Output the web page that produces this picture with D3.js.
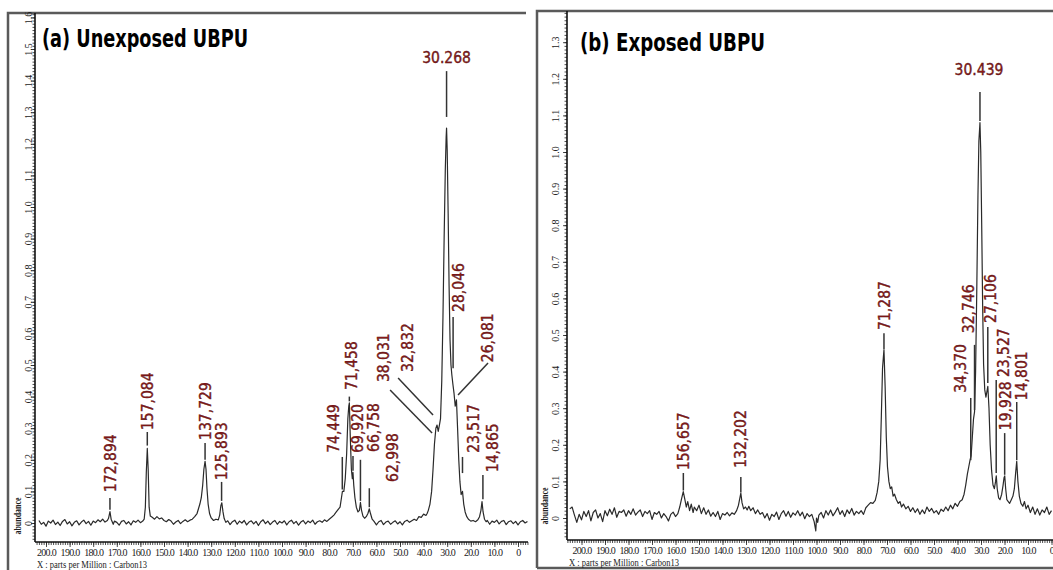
<!DOCTYPE html>
<html>
<head>
<meta charset="utf-8">
<script src="https://cdn.jsdelivr.net/npm/d3@7"></script>
<style>
  body { margin: 0; background: #fff; }
  svg { display: block; }
  .frame { fill: none; stroke: #5a5a5a; stroke-width: 2.5; }
  .axis-line { stroke: #111; stroke-width: 1.6; }
  .tick-line { stroke: #222; stroke-width: 0.8; }
  .tick-text { font-family: "Liberation Serif", "DejaVu Serif", serif; font-size: 10px; fill: #222; }
  .spec { fill: none; stroke: #2a2a2a; stroke-width: 1.2; stroke-linejoin: round; }
  .peak-text { font-family: "DejaVu Sans Condensed", "DejaVu Sans", sans-serif; font-size: 15.5px; fill: #8b1a1a; stroke: #4a0c0c; stroke-width: 0.35; }
  .marker { stroke: #333; stroke-width: 1.5; }
  .title { font-family: "Liberation Sans Narrow", "DejaVu Sans Condensed", "Liberation Sans", sans-serif; font-weight: bold; font-size: 25px; fill: #000; }
</style>
</head>
<body>
<svg id="chart" width="1053" height="570"></svg>
<script>
// x axis (ppm)
var ppmTicks = [200, 190, 180, 170, 160, 150, 140, 130, 120, 110, 100, 90, 80, 70, 60, 50, 40, 30, 20, 10, 0];
var ppmTickLabels = ["200.0", "190.0", "180.0", "170.0", "160.0", "150.0", "140.0", "130.0", "120.0", "110.0",
  "100.0", "90.0", "80.0", "70.0", "60.0", "50.0", "40.0", "30.0", "20.0", "10.0", "0"];

// y axes (abundance)
var yTicksA = [0, 0.1, 0.2, 0.3, 0.4, 0.5, 0.6, 0.7, 0.8, 0.9, 1.0, 1.1, 1.2, 1.3, 1.4, 1.5, 1.6];
var yTickLabelsA = ["0", "0.1", "0.2", "0.3", "0.4", "0.5", "0.6", "0.7", "0.8", "0.9", "1.0", "1.1", "1.2", "1.3", "1.4", "1.5", "1.6"];
var yTicksB = [0, 0.1, 0.2, 0.3, 0.4, 0.5, 0.6, 0.7, 0.8, 0.9, 1.0, 1.1, 1.2, 1.3];
var yTickLabelsB = ["0", "0.1", "0.2", "0.3", "0.4", "0.5", "0.6", "0.7", "0.8", "0.9", "1.0", "1.1", "1.2", "1.3"];

// (a) unexposed spectrum, [ppm, abundance]
var specA = [
  [205, 0.004], [204, -0.006], [203, 0.008], [202, -0.004], [201, 0.002], [200, -0.01], [199, 0.006], [198, 0.0],
  [197, 0.009], [196, -0.005], [195, 0.003], [194, -0.008], [193, 0.005], [192, 0.011], [191, -0.003], [190, 0.004],
  [189, -0.009], [188, 0.002], [187, 0.007], [186, -0.006], [185, 0.003], [184, 0.009], [183, -0.002], [182, 0.005],
  [181, -0.007], [180, 0.006], [179, 0.001], [178, 0.01], [177, 0.004], [176, 0.012], [175, 0.003], [174, 0.008],
  [173.5, 0.015], [172.9, 0.036], [172.4, 0.012], [171.5, -0.004], [171, 0.006], [170, 0.002], [169, -0.007],
  [168, 0.005], [167, 0.008], [166, -0.003], [165, 0.004], [164, -0.006], [163, 0.007], [162, 0.002], [161, 0.009],
  [160, 0.001], [159, 0.006], [158.4, 0.012], [157.9, 0.05], [157.5, 0.16], [157.08, 0.236], [156.7, 0.17],
  [156.3, 0.05], [155.8, 0.022], [155, 0.018], [154, 0.012], [153, 0.02], [152, 0.013], [151, 0.016], [150, 0.008],
  [149, 0.004], [148, 0.011], [147, 0.006], [146, -0.004], [145, 0.003], [144, 0.008], [143, -0.002], [142, 0.005],
  [141, 0.01], [140, 0.004], [139, 0.009], [138, 0.012], [137, 0.02], [136, 0.03], [135.4, 0.045], [134.8, 0.06],
  [134.2, 0.08], [133.6, 0.12], [133.1, 0.17], [132.6, 0.195], [132.2, 0.17], [131.8, 0.11], [131.3, 0.06],
  [130.7, 0.03], [130, 0.016], [129, 0.008], [128, 0.012], [127, 0.01], [126.4, 0.025], [125.9, 0.055],
  [125.5, 0.064], [125, 0.035], [124.5, 0.014], [123.8, 0.002], [123, 0.007], [122, -0.005], [121, 0.004],
  [120, 0.009], [119, -0.004], [118, 0.006], [117, 0.0], [116, 0.008], [115, -0.006], [114, 0.003], [113, 0.007],
  [112, -0.003], [111, 0.005], [110, -0.008], [109, 0.004], [108, 0.01], [107, -0.002], [106, 0.006], [105, -0.005],
  [104, 0.003], [103, 0.008], [102, -0.004], [101, 0.005], [100, 0.0], [99, 0.007], [98, -0.006], [97, 0.004],
  [96, 0.009], [95, -0.002], [94, 0.005], [93, -0.007], [92, 0.003], [91, 0.008], [90, -0.003], [89, 0.006],
  [88, 0.001], [87, 0.009], [86, -0.004], [85, 0.004], [84, 0.007], [83, 0.002], [82, 0.01], [81, 0.005],
  [80, 0.012], [79, 0.018], [78, 0.025], [77, 0.035], [76, 0.045], [75.4, 0.05], [74.8, 0.08], [74.4, 0.1],
  [73.8, 0.1], [73.2, 0.14], [72.6, 0.22], [72.1, 0.33], [71.7, 0.37], [71.46, 0.38], [71.1, 0.28], [70.6, 0.17],
  [70.2, 0.14], [69.92, 0.16], [69.6, 0.12], [69.1, 0.08], [68.5, 0.05], [67.8, 0.035], [67.2, 0.04], [66.76, 0.065],
  [66.3, 0.04], [65.7, 0.022], [65, 0.015], [64.3, 0.02], [63.6, 0.03], [63.0, 0.045], [62.5, 0.03], [61.8, 0.012],
  [61, 0.005], [60, -0.006], [59, 0.004], [58, 0.008], [57, -0.005], [56, 0.003], [55, 0.006], [54, -0.004],
  [53, 0.002], [52, 0.007], [51, -0.003], [50, 0.004], [49, -0.006], [48, 0.005], [47, 0.009], [46, 0.002],
  [45, 0.007], [44, 0.012], [43, 0.008], [42, 0.02], [41, 0.018], [40, 0.028], [39, 0.024], [38.5, 0.03],
  [38, 0.04], [37.3, 0.06], [36.6, 0.1], [36, 0.17], [35.4, 0.25], [34.8, 0.3], [34.3, 0.31], [33.8, 0.29],
  [33.3, 0.31], [32.83, 0.33], [32.3, 0.45], [31.8, 0.65], [31.3, 0.9], [30.8, 1.12], [30.45, 1.22], [30.27, 1.25],
  [30.0, 1.18], [29.6, 0.98], [29.2, 0.75], [28.8, 0.58], [28.4, 0.5], [28.05, 0.47], [27.6, 0.44], [27.1, 0.41],
  [26.6, 0.37], [26.08, 0.39], [25.6, 0.3], [25.1, 0.2], [24.6, 0.13], [24.1, 0.09], [23.52, 0.1], [23.0, 0.06],
  [22.4, 0.035], [21.7, 0.02], [21, 0.012], [20, 0.006], [19, 0.008], [18, 0.004], [17, 0.01], [16.3, 0.02],
  [15.7, 0.04], [15.25, 0.068], [14.8, 0.035], [14.2, 0.012], [13.5, 0.004], [13, 0.008], [12, -0.004], [11, 0.006],
  [10, 0.002], [9, 0.009], [8, -0.003], [7, 0.005], [6, 0.008], [5, -0.005], [4, 0.004], [3, 0.007], [2, -0.002],
  [1, 0.005], [0, -0.006], [-1, 0.004], [-2, 0.008], [-3, 0.0], [-4, 0.005]
];

// (b) exposed spectrum, [ppm, abundance]
var specB = [
  [206, 0.012], [205, 0.025], [204, 0.03], [203, 0.008], [202, -0.012], [201, 0.01], [200, -0.005], [199, 0.018],
  [198, 0.004], [197, 0.02], [196, -0.008], [195, 0.015], [194, 0.022], [193, 0.0], [192, 0.012], [191, -0.01],
  [190, 0.02], [189, 0.006], [188, 0.024], [187, 0.01], [186, 0.028], [185, 0.002], [184, 0.018], [183, 0.015],
  [182, 0.022], [181, 0.005], [180, 0.02], [179, 0.01], [178, 0.025], [177, 0.008], [176, 0.016], [175, 0.022],
  [174, 0.004], [173, 0.018], [172, 0.012], [171, 0.02], [170, -0.004], [169, 0.015], [168, 0.01], [167, 0.018],
  [166, 0.0], [165, 0.012], [164, 0.004], [163, -0.008], [162, 0.01], [161, 0.016], [160, 0.004], [159, 0.012],
  [158.2, 0.03], [157.5, 0.05], [156.7, 0.072], [156, 0.05], [155.4, 0.03], [154.8, 0.045], [154, 0.02],
  [153.3, 0.038], [152.5, 0.015], [152, 0.03], [151, 0.02], [150, 0.035], [149, 0.012], [148, 0.028], [147, 0.01],
  [146, 0.022], [145, 0.005], [144, 0.015], [143, 0.004], [142, 0.018], [141, -0.004], [140, 0.012], [139, 0.008],
  [138, 0.015], [137, 0.006], [136, 0.014], [135, 0.01], [134, 0.02], [133.2, 0.035], [132.6, 0.055], [132.2, 0.068],
  [131.7, 0.042], [131, 0.025], [130.2, 0.03], [129.5, 0.022], [128.8, 0.032], [128, 0.02], [127, 0.028],
  [126, 0.012], [125, 0.022], [124, 0.01], [123, 0.015], [122, 0.0], [121, 0.012], [120, -0.006], [119, 0.01],
  [118, 0.004], [117, 0.016], [116, -0.004], [115, 0.012], [114, 0.02], [113, 0.005], [112, 0.018], [111, 0.002],
  [110, 0.014], [109, 0.008], [108, 0.02], [107, 0.006], [106, 0.016], [105, -0.002], [104, 0.012], [103, 0.004],
  [102, 0.01], [101, -0.01], [100.3, -0.035], [100, 0.0], [99.5, -0.012], [99, 0.008], [98, 0.015], [97, 0.0],
  [96, 0.02], [95, 0.008], [94, 0.022], [93, 0.006], [92, 0.016], [91, 0.028], [90, 0.01], [89, 0.02], [88, 0.004],
  [87, 0.022], [86, 0.012], [85, 0.026], [84, 0.008], [83, 0.018], [82, 0.012], [81, 0.02], [80, 0.01],
  [79, 0.028], [78, 0.035], [77, 0.042], [76, 0.04], [75, 0.048], [74.2, 0.07], [73.5, 0.1], [72.9, 0.16],
  [72.4, 0.28], [71.9, 0.41], [71.29, 0.46], [70.8, 0.36], [70.3, 0.22], [69.8, 0.14], [69.2, 0.1], [68.6, 0.08],
  [68, 0.085], [67.4, 0.06], [66.8, 0.065], [66, 0.05], [65.2, 0.04], [64.5, 0.045], [63.8, 0.03], [63, 0.038],
  [62, 0.025], [61, 0.032], [60, 0.018], [59, 0.028], [58, 0.015], [57, 0.025], [56, 0.01], [55, 0.022],
  [54, 0.012], [53, 0.03], [52, 0.018], [51, 0.026], [50, 0.014], [49, 0.02], [48, 0.01], [47, 0.024],
  [46, 0.018], [45, 0.03], [44, 0.02], [43, 0.035], [42, 0.025], [41, 0.04], [40, 0.032], [39, 0.045], [38, 0.05],
  [37.2, 0.065], [36.5, 0.09], [35.8, 0.12], [35.2, 0.14], [34.6, 0.16], [34.2, 0.17], [33.7, 0.22], [33.2, 0.27],
  [32.75, 0.29], [32.3, 0.4], [31.8, 0.62], [31.3, 0.88], [30.9, 1.03], [30.44, 1.08], [30.1, 1.0], [29.7, 0.8],
  [29.3, 0.58], [28.9, 0.42], [28.4, 0.35], [27.9, 0.33], [27.5, 0.345], [27.1, 0.36], [26.6, 0.3], [26.1, 0.2],
  [25.5, 0.13], [24.9, 0.09], [24.3, 0.08], [23.8, 0.1], [23.5, 0.115], [23.1, 0.08], [22.5, 0.055], [21.9, 0.05],
  [21.2, 0.065], [20.6, 0.09], [20.2, 0.11], [19.9, 0.115], [19.5, 0.08], [19, 0.05], [18.4, 0.045], [17.8, 0.04],
  [17.1, 0.05], [16.4, 0.06], [15.8, 0.08], [15.3, 0.12], [14.8, 0.155], [14.3, 0.1], [13.7, 0.06], [13, 0.04],
  [12.2, 0.032], [11.5, 0.045], [10.8, 0.025], [10, 0.035], [9, 0.015], [8, 0.03], [7, 0.01], [6, 0.025],
  [5, 0.008], [4, 0.022], [3, 0.015], [2, 0.03], [1, 0.01], [0, 0.02], [-1, 0.012]
];

// peak labels, and the ppm where each marker sits
var peakTextA = ["172,894", "157,084", "137,729", "125,893", "74,449", "71,458", "69,920", "66,758", "62,998",
  "38,031", "32,832", "28,046", "26,081", "23,517", "14,865"];
var peakPpmA = [172.9, 157.08, 132.6, 125.6, 74.45, 71.46, 69.92, 66.76, 63.0, 38.03, 32.83, 28.05, 26.08, 23.52, 14.87];
var topTextA = "30.268";
var topPpmA = 30.268;

var peakTextB = ["156,657", "132,202", "71,287", "34,370", "32,746", "27,106", "23,527", "19,928", "14,801"];
var peakPpmB = [156.66, 132.2, 71.29, 34.37, 32.75, 27.11, 23.53, 19.93, 14.8];
var topTextB = "30.439";
var topPpmB = 30.439;

// label placement: [label ppm, label foot, leader x1 (null = marker), y1, leader x2, y2]
var layoutA = [
  [172.9, 0.098, null, 0.079, null, 0.042],
  [157.08, 0.294, null, 0.288, null, 0.245],
  [132.6, 0.263, null, 0.253, null, 0.2],
  [125.6, 0.136, null, 0.13, null, 0.07],
  [78.4, 0.222, null, 0.209, null, 0.106],
  [70.8, 0.421, null, 0.4, null, 0.385],
  [68.2, 0.222, null, 0.212, null, 0.165],
  [61.4, 0.225, null, 0.2, null, 0.07],
  [53.4, 0.13, null, 0.11, null, 0.05],
  [57.2, 0.446, 54.2, 0.421, 36.4, 0.285],
  [47.0, 0.478, 50.8, 0.459, 36.0, 0.342],
  [25.4, 0.668, 27.5, 0.652, 27.5, 0.49],
  [13.1, 0.509, 12.7, 0.506, 25.4, 0.405],
  [19.1, 0.222, null, 0.209, null, 0.158],
  [11.0, 0.161, null, 0.152, null, 0.075]
];
var topLayoutA = [30.268, 1.456, 1.43, 1.285];

var layoutB = [
  [156.66, 0.131, null, 0.123, null, 0.075],
  [132.2, 0.137, null, 0.112, null, 0.07],
  [71.29, 0.514, null, 0.505, null, 0.462],
  [38.9, 0.342, null, 0.328, null, 0.158],
  [35.5, 0.505, null, 0.473, null, 0.295],
  [26.2, 0.533, null, 0.522, null, 0.369],
  [20.6, 0.385, null, 0.377, null, 0.123],
  [19.8, 0.24, null, 0.232, null, 0.118],
  [12.6, 0.322, null, 0.317, null, 0.158]
];
var topLayoutB = [30.85, 1.21, 1.164, 1.085];

var panels = [
  {
    title: "(a) Unexposed UBPU", titleX: 42, titleY: 47, titleLen: 206,
    xr: [46, 518], yr: [523, 17.4], ytop: 1.6,
    axisX: 35, axisY: 542, axisTop: 13, axisRight: 528,
    frame: "M8,572V13H526",
    labelOff: 3.5, absX: 18, absY: 516, xlabY: 568,
    spec: specA, yTicks: yTicksA, yLabels: yTickLabelsA,
    peakText: peakTextA, peakPpm: peakPpmA, layout: layoutA,
    topText: topTextA, topPpm: topPpmA, topLayout: topLayoutA
  },
  {
    title: "(b) Exposed UBPU", titleX: 580, titleY: 51, titleLen: 185,
    xr: [581.5, 1051.5], yr: [518, 42.2], ytop: 1.3,
    axisX: 567, axisY: 540, axisTop: 11, axisRight: 1053,
    frame: "M537,568V11H1053M537,568H1053",
    labelOff: 8, absX: 545, absY: 506, xlabY: 566,
    spec: specB, yTicks: yTicksB, yLabels: yTickLabelsB,
    peakText: peakTextB, peakPpm: peakPpmB, layout: layoutB,
    topText: topTextB, topPpm: topPpmB, topLayout: topLayoutB
  }
];

var svg = d3.select('#chart');

panels.forEach(drawPanel);

function drawPanel(p) {
  var g = svg.append('g');
  var x = d3.scaleLinear().domain([200, 0]).range(p.xr);
  var y = d3.scaleLinear().domain([0, p.ytop]).range(p.yr);

  g.append('path').attr('class', 'frame').attr('d', p.frame);

  // spectrum
  var line = d3.line()
    .x(d => x(d[0]))
    .y(d => y(d[1]));
  g.append('path')
    .attr('class', 'spec')
    .attr('d', line(p.spec.filter(d => x(d[0]) >= p.axisX + 2 && x(d[0]) <= p.axisRight)));

  // x axis: ruler of 1 ppm ticks, labelled every 10
  var ppmMax = x.invert(p.axisX), ppmMin = x.invert(p.axisRight);
  var minorX = d3.range(Math.ceil(ppmMin), Math.floor(ppmMax) + 1, 1);
  var xMinor = d3.axisBottom(x).tickValues(minorX).tickSize(3).tickFormat('');
  var xMajor = d3.axisBottom(x).tickValues(ppmTicks).tickSize(5).tickPadding(2)
    .tickFormat((d, i) => ppmTickLabels[i]);
  var gx1 = g.append('g').attr('transform', `translate(0,${p.axisY})`).call(xMinor);
  var gx2 = g.append('g').attr('transform', `translate(0,${p.axisY})`).call(xMajor);
  [gx1, gx2].forEach(a => {
    a.select('.domain').remove();
    a.selectAll('line').attr('class', 'tick-line');
  });
  gx2.selectAll('text').attr('class', 'tick-text').style('letter-spacing', '-0.7px');
  g.append('line').attr('class', 'axis-line')
    .attr('x1', p.axisX).attr('x2', p.axisRight).attr('y1', p.axisY).attr('y2', p.axisY);

  // y axis: ruler of 0.01 ticks, rotated labels
  var minorY = d3.range(-5, Math.floor(y.invert(p.axisTop) * 100) + 1).map(v => v / 100);
  var yMinor = d3.axisLeft(y).tickValues(minorY).tickSize(2.5).tickFormat('');
  var yMajor = d3.axisLeft(y).tickValues(p.yTicks).tickSize(4).tickFormat((d, i) => p.yLabels[i]);
  var gy1 = g.append('g').attr('transform', `translate(${p.axisX},0)`).call(yMinor);
  var gy2 = g.append('g').attr('transform', `translate(${p.axisX},0)`).call(yMajor);
  [gy1, gy2].forEach(a => {
    a.select('.domain').remove();
    a.selectAll('line').attr('class', 'tick-line');
  });
  gy2.selectAll('text')
    .attr('class', 'tick-text')
    .attr('x', 0).attr('dy', 0)
    .attr('y', -p.labelOff)
    .attr('text-anchor', 'middle')
    .attr('transform', 'rotate(-90)');
  g.append('line').attr('class', 'axis-line')
    .attr('x1', p.axisX).attr('x2', p.axisX).attr('y1', p.axisTop).attr('y2', p.axisY);

  g.append('text')
    .attr('class', 'tick-text')
    .attr('transform', `translate(${p.absX},${p.absY}) rotate(-90)`)
    .attr('text-anchor', 'middle')
    .attr('dy', '0.35em')
    .attr('textLength', 37)
    .attr('lengthAdjust', 'spacingAndGlyphs')
    .style('font-weight', 'bold')
    .style('font-size', '9.5px')
    .text('abundance');

  g.append('text')
    .attr('class', 'tick-text')
    .attr('x', p.axisX + 2).attr('y', p.xlabY)
    .attr('textLength', 110)
    .attr('lengthAdjust', 'spacingAndGlyphs')
    .style('font-size', '11px')
    .text('X : parts per Million : Carbon13');

  // title
  g.append('text')
    .attr('class', 'title')
    .attr('x', p.titleX).attr('y', p.titleY)
    .attr('textLength', p.titleLen)
    .attr('lengthAdjust', 'spacingAndGlyphs')
    .text(p.title);

  // peak markers and labels
  p.layout.forEach((l, i) => {
    var px = p.peakPpm[i];
    g.append('line').attr('class', 'marker')
      .attr('x1', x(l[2] === null ? px : l[2])).attr('y1', y(l[3]))
      .attr('x2', x(l[4] === null ? px : l[4])).attr('y2', y(l[5]));
    g.append('text')
      .attr('class', 'peak-text')
      .attr('transform', `translate(${x(l[0])},${y(l[1])}) rotate(-90)`)
      .attr('dy', '0.36em')
      .text(p.peakText[i]);
  });

  var t = p.topLayout;
  g.append('line').attr('class', 'marker')
    .attr('x1', x(p.topPpm)).attr('x2', x(p.topPpm))
    .attr('y1', y(t[2])).attr('y2', y(t[3]));
  g.append('text')
    .attr('class', 'peak-text')
    .attr('x', x(t[0])).attr('y', y(t[1]))
    .attr('text-anchor', 'middle')
    .text(p.topText);
}
</script>
</body>
</html>
